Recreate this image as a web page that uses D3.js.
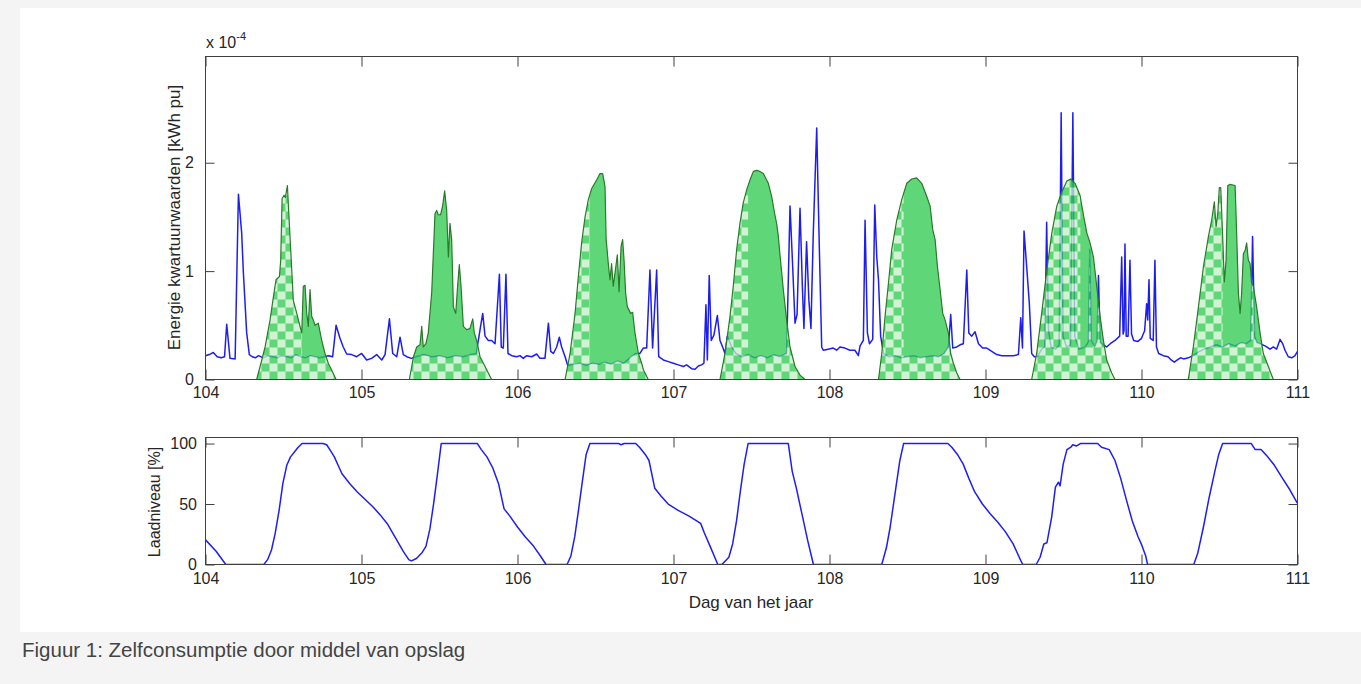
<!DOCTYPE html>
<html><head><meta charset="utf-8">
<script src="https://cdn.jsdelivr.net/npm/d3@7"></script>
<style>
html,body{margin:0;padding:0;background:#f4f4f4;}
svg{display:block;}
text{font-family:"Liberation Sans",Arial,Helvetica,sans-serif;fill:#262626;}
</style></head><body>
<svg id="chart" width="1361" height="684"></svg>
<script>
// ---------------- DATA ----------------
const dayTicks = [104,105,106,107,108,109,110,111];
const energyTicks = [0,1,2];          // x 10^-4
const levelTicks = [0,50,100];

// consumption (blue), [day, kWh pu x 1e-4]
const loadSeries = [
[104.000,0.22],[104.025,0.23],[104.050,0.25],[104.075,0.21],[104.100,0.20],[104.122,0.21],[104.136,0.51],[104.157,0.195],[104.190,0.19],[104.211,1.71],[104.232,1.35],[104.243,0.98],[104.264,0.43],[104.281,0.23],[104.300,0.21],[104.320,0.20],[104.340,0.22],[104.370,0.20],[104.400,0.22],[104.430,0.21],[104.460,0.20],[104.490,0.22],[104.520,0.21],[104.550,0.20],[104.580,0.23],[104.610,0.21],[104.640,0.20],[104.670,0.22],[104.700,0.21],[104.730,0.20],[104.760,0.21],[104.790,0.22],[104.815,0.21],[104.837,0.50],[104.862,0.38],[104.883,0.30],[104.905,0.235],[104.937,0.23],[104.969,0.21],[105.001,0.24],[105.033,0.18],[105.065,0.195],[105.097,0.23],[105.130,0.18],[105.151,0.23],[105.179,0.56],[105.200,0.24],[105.226,0.21],[105.247,0.39],[105.268,0.23],[105.290,0.21],[105.320,0.195],[105.350,0.21],[105.400,0.23],[105.450,0.21],[105.500,0.22],[105.550,0.20],[105.600,0.22],[105.650,0.21],[105.700,0.23],[105.735,0.24],[105.749,0.36],[105.760,0.46],[105.777,0.61],[105.792,0.40],[105.813,0.36],[105.834,0.36],[105.856,0.33],[105.884,0.97],[105.896,0.30],[105.909,0.29],[105.926,0.97],[105.939,0.24],[105.963,0.22],[105.995,0.21],[106.016,0.22],[106.037,0.195],[106.059,0.22],[106.091,0.21],[106.123,0.235],[106.144,0.195],[106.176,0.195],[106.198,0.52],[106.213,0.26],[106.230,0.24],[106.251,0.30],[106.268,0.39],[106.283,0.30],[106.305,0.21],[106.322,0.13],[106.360,0.14],[106.400,0.15],[106.440,0.13],[106.480,0.15],[106.520,0.14],[106.560,0.16],[106.600,0.14],[106.640,0.17],[106.680,0.15],[106.720,0.20],[106.755,0.24],[106.785,0.24],[106.806,0.29],[106.828,0.29],[106.849,1.01],[106.866,0.29],[106.892,1.01],[106.905,0.21],[106.935,0.18],[106.967,0.165],[106.999,0.15],[107.031,0.135],[107.063,0.12],[107.084,0.135],[107.116,0.10],[107.138,0.095],[107.159,0.125],[107.180,0.135],[107.195,0.15],[107.208,0.69],[107.217,0.18],[107.229,0.96],[107.242,0.36],[107.259,0.41],[107.281,0.59],[107.298,0.36],[107.315,0.30],[107.330,0.24],[107.345,0.40],[107.373,0.30],[107.400,0.24],[107.440,0.21],[107.480,0.23],[107.520,0.20],[107.560,0.22],[107.600,0.20],[107.640,0.23],[107.680,0.21],[107.725,0.24],[107.747,1.60],[107.764,1.04],[107.779,0.52],[107.792,0.60],[107.811,1.58],[107.826,0.86],[107.836,0.47],[107.853,1.27],[107.868,0.73],[107.881,0.47],[107.896,1.35],[107.918,2.32],[107.935,1.20],[107.950,0.30],[107.960,0.27],[107.992,0.28],[108.024,0.29],[108.046,0.27],[108.067,0.30],[108.099,0.29],[108.131,0.27],[108.163,0.27],[108.185,0.22],[108.196,0.31],[108.217,0.36],[108.228,1.47],[108.243,0.43],[108.256,0.33],[108.277,0.37],[108.290,1.61],[108.303,1.13],[108.314,0.92],[108.328,0.40],[108.346,0.24],[108.380,0.21],[108.420,0.22],[108.460,0.20],[108.500,0.21],[108.540,0.22],[108.580,0.20],[108.620,0.21],[108.660,0.22],[108.700,0.21],[108.735,0.24],[108.762,0.30],[108.777,0.60],[108.790,0.29],[108.816,0.30],[108.837,0.32],[108.858,0.33],[108.880,1.01],[108.893,0.43],[108.912,0.40],[108.933,0.44],[108.955,0.33],[108.982,0.29],[109.008,0.29],[109.040,0.26],[109.072,0.23],[109.104,0.22],[109.136,0.22],[109.179,0.22],[109.211,0.23],[109.226,0.57],[109.237,0.29],[109.247,1.37],[109.264,1.04],[109.281,0.70],[109.296,0.24],[109.313,0.21],[109.333,0.21],[109.360,0.28],[109.380,0.30],[109.392,1.45],[109.404,0.45],[109.420,0.30],[109.450,0.28],[109.472,0.32],[109.485,2.46],[109.497,0.40],[109.520,0.30],[109.545,0.32],[109.560,2.46],[109.572,0.40],[109.600,0.28],[109.640,0.30],[109.660,0.35],[109.668,1.20],[109.678,0.36],[109.700,0.30],[109.715,0.35],[109.724,0.96],[109.735,0.34],[109.776,0.30],[109.800,0.33],[109.830,0.36],[109.860,0.40],[109.873,1.13],[109.882,0.42],[109.888,0.45],[109.894,1.25],[109.902,0.40],[109.914,0.40],[109.926,1.10],[109.936,0.42],[109.950,0.36],[109.975,0.35],[110.000,0.38],[110.020,0.45],[110.033,0.70],[110.040,0.55],[110.048,0.92],[110.056,0.38],[110.075,0.36],[110.086,1.10],[110.096,0.30],[110.110,0.24],[110.140,0.22],[110.170,0.21],[110.190,0.18],[110.210,0.16],[110.230,0.18],[110.250,0.20],[110.270,0.19],[110.300,0.20],[110.330,0.22],[110.360,0.25],[110.400,0.28],[110.440,0.30],[110.480,0.32],[110.520,0.30],[110.560,0.33],[110.600,0.31],[110.640,0.34],[110.670,0.33],[110.700,0.36],[110.712,1.32],[110.725,0.40],[110.740,0.34],[110.760,0.33],[110.792,0.31],[110.824,0.28],[110.845,0.30],[110.866,0.28],[110.888,0.37],[110.905,0.33],[110.920,0.27],[110.941,0.21],[110.963,0.20],[110.984,0.22],[111.000,0.26]
];

// PV production (green), one array per day, [day, kWh pu x 1e-4]
const pvDay104 = [[104.328,0],[104.350,0.12],[104.382,0.30],[104.414,0.55],[104.435,0.76],[104.452,0.92],[104.474,0.95],[104.482,1.10],[104.491,1.67],[104.504,1.70],[104.512,1.68],[104.525,1.79],[104.533,1.56],[104.546,1.20],[104.563,0.73],[104.585,0.61],[104.606,0.49],[104.617,0.43],[104.627,0.86],[104.638,0.87],[104.649,0.61],[104.659,0.49],[104.670,0.83],[104.681,0.58],[104.691,0.55],[104.702,0.50],[104.723,0.52],[104.745,0.36],[104.766,0.24],[104.787,0.15],[104.808,0.09],[104.837,0]];
const pvDay105 = [[105.307,0],[105.333,0.21],[105.354,0.30],[105.375,0.32],[105.386,0.49],[105.396,0.30],[105.413,0.33],[105.428,0.43],[105.450,0.80],[105.471,1.53],[105.482,1.56],[105.492,1.52],[105.507,1.52],[105.520,1.60],[105.533,1.74],[105.546,1.56],[105.557,1.13],[105.567,1.44],[105.578,1.29],[105.589,0.67],[105.604,0.61],[105.616,0.86],[105.627,1.06],[105.638,0.86],[105.653,0.49],[105.674,0.46],[105.695,0.47],[105.713,0.56],[105.723,0.43],[105.738,0.36],[105.760,0.21],[105.792,0.12],[105.834,0]];
const pvDay106 = [[106.305,0],[106.337,0.24],[106.369,0.61],[106.390,0.95],[106.411,1.26],[106.433,1.50],[106.454,1.66],[106.475,1.76],[106.507,1.84],[106.529,1.90],[106.546,1.90],[106.561,1.78],[106.568,1.30],[106.582,1.07],[106.593,0.92],[106.603,1.07],[106.614,0.86],[106.640,1.15],[106.651,0.81],[106.664,1.23],[106.674,1.29],[106.683,1.10],[106.693,0.80],[106.704,0.67],[106.715,0.64],[106.725,0.61],[106.738,0.62],[106.753,0.43],[106.775,0.24],[106.796,0.15],[106.807,0.09],[106.838,0]];
const pvDay107 = [[107.298,0],[107.330,0.24],[107.362,0.58],[107.383,0.86],[107.405,1.20],[107.426,1.44],[107.447,1.63],[107.469,1.75],[107.490,1.84],[107.512,1.92],[107.533,1.93],[107.554,1.92],[107.576,1.90],[107.597,1.84],[107.608,1.81],[107.629,1.69],[107.650,1.52],[107.661,1.44],[107.672,1.32],[107.682,1.16],[107.704,0.83],[107.725,0.55],[107.747,0.30],[107.779,0.12],[107.811,0.04],[107.843,0]];
const pvDay108 = [[108.314,0],[108.335,0.24],[108.356,0.58],[108.378,0.89],[108.399,1.20],[108.431,1.47],[108.463,1.66],[108.495,1.81],[108.527,1.85],[108.559,1.86],[108.591,1.81],[108.623,1.69],[108.645,1.60],[108.662,1.38],[108.677,1.29],[108.692,1.04],[108.709,0.83],[108.726,0.61],[108.741,0.55],[108.762,0.43],[108.777,0.24],[108.794,0.15],[108.816,0.06],[108.837,0]];
const pvDay109 = [[109.296,0],[109.328,0.24],[109.360,0.61],[109.393,1.01],[109.425,1.35],[109.457,1.60],[109.489,1.73],[109.521,1.83],[109.546,1.85],[109.574,1.81],[109.606,1.70],[109.630,1.50],[109.650,1.35],[109.670,1.26],[109.692,1.13],[109.713,0.86],[109.735,0.58],[109.756,0.36],[109.777,0.18],[109.809,0.06],[109.830,0]];
const pvDay110 = [[110.300,0],[110.332,0.30],[110.365,0.67],[110.397,1.04],[110.429,1.32],[110.450,1.47],[110.467,1.64],[110.478,1.41],[110.489,1.53],[110.499,1.77],[110.508,1.77],[110.521,1.29],[110.531,0.90],[110.542,1.10],[110.553,1.79],[110.568,1.80],[110.600,1.79],[110.610,1.35],[110.621,0.80],[110.632,0.61],[110.642,0.80],[110.653,1.16],[110.664,1.19],[110.674,1.26],[110.685,1.10],[110.696,1.07],[110.706,0.89],[110.717,0.86],[110.738,0.67],[110.760,0.43],[110.781,0.24],[110.813,0.12],[110.845,0]];
const pvDays = [pvDay104,pvDay105,pvDay106,pvDay107,pvDay108,pvDay109,pvDay110];

// battery state of charge [day, %]
const batterySeries = [
[104.000,20.4],[104.068,10.9],[104.130,0],[104.374,0],[104.398,4],[104.423,12],[104.447,26],[104.472,45],[104.496,67],[104.521,82],[104.545,89],[104.570,93],[104.594,97],[104.619,100],[104.753,100],[104.777,99],[104.802,94],[104.826,89],[104.850,82],[104.875,75],[104.924,67],[104.973,60],[105.022,54],[105.071,48],[105.120,41],[105.169,33],[105.218,22],[105.267,11],[105.303,4],[105.320,3],[105.352,5],[105.389,10],[105.413,15],[105.438,29],[105.462,50],[105.487,75],[105.511,100],[105.743,100],[105.768,95],[105.804,89],[105.841,80],[105.878,67],[105.914,46],[105.951,40],[106.000,31],[106.049,23],[106.098,16],[106.147,7],[106.183,0],[106.318,0],[106.342,7],[106.367,23],[106.391,45],[106.416,69],[106.440,91],[106.464,100],[106.650,100],[106.663,99],[106.685,100],[106.758,100],[106.782,97],[106.819,91],[106.843,86],[106.880,63],[106.917,57],[106.966,50],[107.027,45],[107.100,40],[107.174,34],[107.198,26],[107.235,15],[107.284,0],[107.310,0],[107.355,6],[107.379,17],[107.404,36],[107.429,61],[107.453,83],[107.478,100],[107.736,100],[107.761,77],[107.786,64],[107.823,42],[107.860,20],[107.897,0],[108.335,0],[108.365,14],[108.389,31],[108.426,64],[108.451,86],[108.475,100],[108.759,100],[108.784,97],[108.820,91],[108.857,83],[108.894,71],[108.931,60],[108.980,50],[109.030,42],[109.079,35],[109.128,27],[109.177,17],[109.227,3],[109.239,0],[109.325,0],[109.350,6],[109.374,17],[109.394,18],[109.424,39],[109.448,64],[109.468,68],[109.478,65],[109.498,83],[109.522,95],[109.547,97],[109.559,99],[109.584,98],[109.608,100],[109.719,100],[109.744,97],[109.793,95],[109.830,86],[109.867,71],[109.904,53],[109.941,36],[109.978,23],[110.002,16],[110.027,7],[110.039,0],[110.335,0],[110.360,9],[110.397,31],[110.433,55],[110.470,77],[110.495,91],[110.520,100],[110.704,100],[110.729,95],[110.766,95],[110.803,90],[110.852,82],[110.900,72],[110.950,62],[110.998,51]
];

const texts = {
  yTop: "Energie kwartuurwaarden [kWh pu]",
  yBot: "Laadniveau [%]",
  xBot: "Dag van het jaar",
  mult: "x 10",
  multExp: "-4",
  caption: "Figuur 1: Zelfconsumptie door middel van opslag"
};

// ---------------- DRAWING ----------------
const svg = d3.select("#chart");
const W = 1361, H = 684;
svg.append("rect").attr("width", W).attr("height", H).attr("fill", "#f4f4f4");
svg.append("rect").attr("x", 20).attr("y", 8).attr("width", W - 20).attr("height", 624).attr("fill", "#ffffff");

const x = d3.scaleLinear().domain([104, 111]).range([205.5, 1297.5]);
const yE = d3.scaleLinear().domain([0, 2.98]).range([379.5, 56.5]);
const yL = d3.scaleLinear().domain([0, 105]).range([564.5, 437.5]);

const BLUE = "#1e1ef0", GREEN = "#33cc54", LIGHT = "#c4f0c8", DARKGREEN = "#2a7a2a", AXIS = "#404040";

const defs = svg.append("defs");
const s = 8;
const pat = defs.append("pattern").attr("id", "checker").attr("patternUnits", "userSpaceOnUse")
  .attr("width", 2 * s).attr("height", 2 * s).attr("x", 205.5).attr("y", 379.5);
pat.append("rect").attr("width", 2 * s).attr("height", 2 * s).attr("fill", GREEN);
pat.append("rect").attr("width", s).attr("height", s).attr("fill", LIGHT);
pat.append("rect").attr("x", s).attr("y", s).attr("width", s).attr("height", s).attr("fill", LIGHT);

defs.append("clipPath").attr("id", "topPlot").append("rect")
  .attr("x", x.range()[0]).attr("y", yE.range()[1]).attr("width", x.range()[1] - x.range()[0]).attr("height", yE.range()[0] - yE.range()[1]);
defs.append("clipPath").attr("id", "botPlot").append("rect")
  .attr("x", x.range()[0]).attr("y", yL.range()[1]).attr("width", x.range()[1] - x.range()[0]).attr("height", yL.range()[0] - yL.range()[1]);

// region above the consumption line
defs.append("clipPath").attr("id", "aboveLoad").append("path")
  .attr("d", d3.area().x(d => x(d[0])).y0(d => yE(d[1])).y1(yE.range()[1])(loadSeries));

// windows where battery is full (until it is empty again): PV surplus is exported
const exportWindows = [];
let winStart = null;
batterySeries.forEach(([d, v]) => {
  if (winStart === null && v >= 99.5) winStart = d;
  else if (winStart !== null && v <= 0) { exportWindows.push([winStart, d]); winStart = null; }
});
if (winStart !== null) exportWindows.push([winStart, 111]);
defs.append("clipPath").attr("id", "exportWin").selectAll("rect").data(exportWindows).join("rect")
  .attr("x", d => x(d[0])).attr("width", d => x(d[1]) - x(d[0]))
  .attr("y", yE.range()[1]).attr("height", yE.range()[0] - yE.range()[1]);

// ---- top panel ----
const topPanel = svg.append("g").attr("clip-path", "url(#topPlot)");
const loadLine = d3.line().x(d => x(d[0])).y(d => yE(d[1]));
topPanel.append("path").attr("d", loadLine(loadSeries)).attr("fill", "none")
  .attr("stroke", BLUE).attr("stroke-width", 1.5).attr("stroke-linejoin", "round");

const pvArea = d3.area().x(d => x(d[0])).y0(yE(0)).y1(d => yE(d[1]));
const greens = topPanel.append("g").attr("opacity", 0.78);
greens.selectAll("path.chk").data(pvDays).join("path").attr("class", "chk")
  .attr("d", pvArea).attr("fill", "url(#checker)");
greens.append("g").attr("clip-path", "url(#exportWin)")
  .append("g").attr("clip-path", "url(#aboveLoad)")
  .selectAll("path").data(pvDays).join("path").attr("d", pvArea).attr("fill", GREEN);
topPanel.selectAll("path.pvl").data(pvDays).join("path").attr("class", "pvl")
  .attr("d", d3.line().x(d => x(d[0])).y(d => yE(d[1]))).attr("fill", "none")
  .attr("stroke", DARKGREEN).attr("stroke-width", 1.2).attr("stroke-linejoin", "round");

// ---- bottom panel ----
const botPanel = svg.append("g").attr("clip-path", "url(#botPlot)");
botPanel.append("path").attr("d", d3.line().x(d => x(d[0])).y(d => yL(d[1]))(batterySeries))
  .attr("fill", "none").attr("stroke", BLUE).attr("stroke-width", 1.5).attr("stroke-linejoin", "round");

// ---- axes ----
function styleAxis(g) {
  g.select(".domain").remove();
  g.selectAll(".tick line").attr("stroke", AXIS);
  g.selectAll(".tick text").attr("fill", "#262626").style("font-size", "16px")
    .style("font-family", '"Liberation Sans",Arial,sans-serif');
}
function panelAxes(yScale, ticks, xPad, yPad) {
  const [y0, y1] = yScale.range();
  svg.append("g").attr("transform", `translate(0,${y0})`)
    .call(d3.axisBottom(x).tickValues(dayTicks).tickSize(-10).tickPadding(xPad).tickFormat(d3.format("d"))).call(styleAxis);
  svg.append("g").attr("transform", `translate(0,${y1})`)
    .call(d3.axisTop(x).tickValues(dayTicks).tickSize(-10).tickFormat("")).call(styleAxis);
  svg.append("g").attr("transform", `translate(${x.range()[0]},0)`)
    .call(d3.axisLeft(yScale).tickValues(ticks).tickSize(-9).tickPadding(yPad).tickFormat(d3.format("d"))).call(styleAxis);
  svg.append("g").attr("transform", `translate(${x.range()[1]},0)`)
    .call(d3.axisRight(yScale).tickValues(ticks).tickSize(-9).tickFormat("")).call(styleAxis);
  svg.append("rect").attr("x", x.range()[0]).attr("y", y1).attr("width", x.range()[1] - x.range()[0])
    .attr("height", y0 - y1).attr("fill", "none").attr("stroke", AXIS).attr("stroke-width", 1);
}
panelAxes(yE, energyTicks, 7, 11.5);
panelAxes(yL, levelTicks, 8.5, 8.5);

// ---- labels ----
const mult = svg.append("text").attr("x", 206).attr("y", 48).style("font-size", "16px").text(texts.mult);
mult.append("tspan").attr("dy", -8).style("font-size", "11px").text(texts.multExp);

svg.append("text").attr("transform", "translate(180,217.5) rotate(-90)").attr("text-anchor", "middle")
  .style("font-size", "17px").text(texts.yTop);
svg.append("text").attr("transform", "translate(160,502) rotate(-90)").attr("text-anchor", "middle")
  .style("font-size", "16px").text(texts.yBot);
svg.append("text").attr("x", 751).attr("y", 608).attr("text-anchor", "middle")
  .style("font-size", "17px").text(texts.xBot);
svg.append("text").attr("x", 22).attr("y", 657).style("font-size", "20.5px")
  .style("fill", "#444").text(texts.caption);
</script>
</body></html>
